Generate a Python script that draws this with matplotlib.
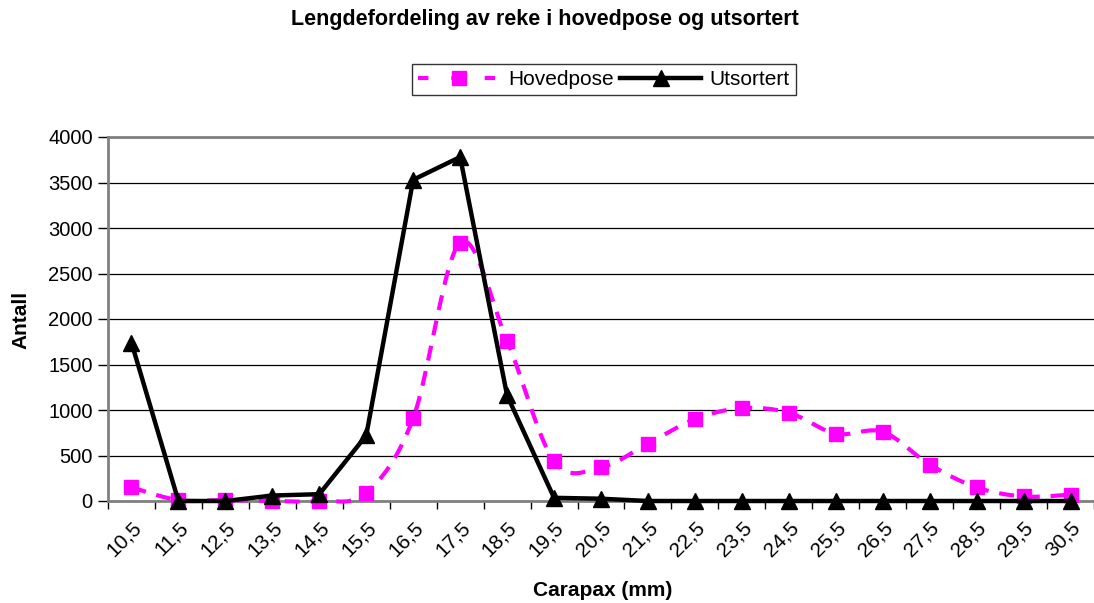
import numpy as np
import matplotlib
matplotlib.use("Agg")
import matplotlib.pyplot as plt
from matplotlib.lines import Line2D

plt.rcParams['font.family'] = ['Liberation Sans', 'DejaVu Sans']

categories = ["10,5", "11,5", "12,5", "13,5", "14,5", "15,5", "16,5", "17,5", "18,5",
              "19,5", "20,5", "21,5", "22,5", "23,5", "24,5", "25,5", "26,5", "27,5",
              "28,5", "29,5", "30,5"]
hovedpose = [150, 10, 10, 0, 0, 90, 910, 2840, 1760, 440, 370, 630, 900, 1020, 970,
             740, 760, 400, 150, 50, 70]
utsortert = [1740, 0, 0, 60, 75, 720, 3530, 3780, 1160, 35, 25, 0, 0, 0, 0,
             0, 0, 0, 0, 0, 0]
yticks = [0, 500, 1000, 1500, 2000, 2500, 3000, 3500, 4000]

title = "Lengdefordeling av reke i hovedpose og utsortert"
xlabel = "Carapax (mm)"
ylabel = "Antall"


def smooth(x, y, n=20):
    """Bezier smoothing through the data points (like Excel smoothed lines)."""
    x = np.asarray(x, float)
    y = np.asarray(y, float)
    px = np.concatenate([[x[0]], x, [x[-1]]])
    py = np.concatenate([[y[0]], y, [y[-1]]])
    xs, ys = [], []
    t = np.linspace(0, 1, n, endpoint=False)
    for i in range(1, len(px) - 2):
        p0x, p1x, p2x, p3x = px[i - 1], px[i], px[i + 1], px[i + 2]
        p0y, p1y, p2y, p3y = py[i - 1], py[i], py[i + 1], py[i + 2]
        c1x = p1x + (p2x - p0x) / 6
        c1y = p1y + (p2y - p0y) / 6
        c2x = p2x - (p3x - p1x) / 6
        c2y = p2y - (p3y - p1y) / 6
        b0 = (1 - t) ** 3
        b1 = 3 * (1 - t) ** 2 * t
        b2 = 3 * (1 - t) * t ** 2
        b3 = t ** 3
        xs.append(b0 * p1x + b1 * c1x + b2 * c2x + b3 * p2x)
        ys.append(b0 * p1y + b1 * c1y + b2 * c2y + b3 * p2y)
    xs.append([x[-1]])
    ys.append([y[-1]])
    return np.concatenate(xs), np.concatenate(ys)


fig = plt.figure(figsize=(10.94, 6.03), dpi=100)
ax = fig.add_axes([108 / 1094, (603 - 501) / 603, (1094 - 108) / 1094, (501 - 137) / 603])

x = np.arange(len(categories))
magenta = "#FF00FF"

sx, sy = smooth(x, hovedpose)
ax.plot(sx, sy, color=magenta, lw=3, dashes=(3.6, 2.6), zorder=3,
        dash_capstyle='butt', clip_on=False)
ax.plot(x, hovedpose, ls='none', marker='s', ms=9.5, color=magenta, mec=magenta,
        zorder=4, clip_on=False)
ax.plot(x, utsortert, color='black', lw=3.2, marker='^', ms=11.5, zorder=5,
        clip_on=False)

ax.set_xlim(-0.5, len(categories) - 0.5)
ax.set_ylim(0, 4000)
ax.set_yticks(yticks)
ax.set_yticklabels([str(v) for v in yticks], fontsize=14.5)
ax.yaxis.grid(True, color='black', lw=0.9)
ax.set_axisbelow(True)

ax.set_xticks(x)
ax.set_xticklabels(categories, fontsize=15, rotation=45, ha='right', va='top',
                   rotation_mode='anchor')
ax.tick_params(axis='x', which='major', length=0, pad=12)
ax.set_xticks(np.arange(-0.5, len(categories), 1.0), minor=True)
ax.tick_params(axis='x', which='minor', length=6, width=1, color='black', direction='out')
ax.tick_params(axis='y', length=7, width=1, color='black', direction='out', pad=4)

ax.spines['right'].set_visible(False)
for side in ['top', 'left', 'bottom']:
    ax.spines[side].set_color('#808080')
    ax.spines[side].set_linewidth(2)

fig.text(545 / 1094, 1 - 20 / 603, title, ha='center', va='center', fontsize=15.5,
         fontweight='bold')
fig.text(603 / 1094, 1 - 591 / 603, xlabel, ha='center', va='center', fontsize=15,
         fontweight='bold')
fig.text(21 / 1094, 1 - 320 / 603, ylabel, ha='center', va='center', fontsize=15,
         fontweight='bold', rotation=90)

handles = [
    Line2D([], [], color=magenta, lw=3, dashes=(2.5, 5.5), marker='s', ms=9.5, mec=magenta),
    Line2D([], [], color='black', lw=3.2, marker='^', ms=11.5),
]
leg = fig.legend(handles, ["Hovedpose", "Utsortert"], loc='center',
                 bbox_to_anchor=(604 / 1094, 1 - 79.5 / 603), ncol=2, fontsize=15,
                 frameon=True, fancybox=False, handlelength=3.9, columnspacing=0.3,
                 handletextpad=0.4, borderpad=0.3, borderaxespad=0)
leg.get_frame().set_edgecolor('black')
leg.get_frame().set_linewidth(1)

fig.savefig("out.png", dpi=100)
